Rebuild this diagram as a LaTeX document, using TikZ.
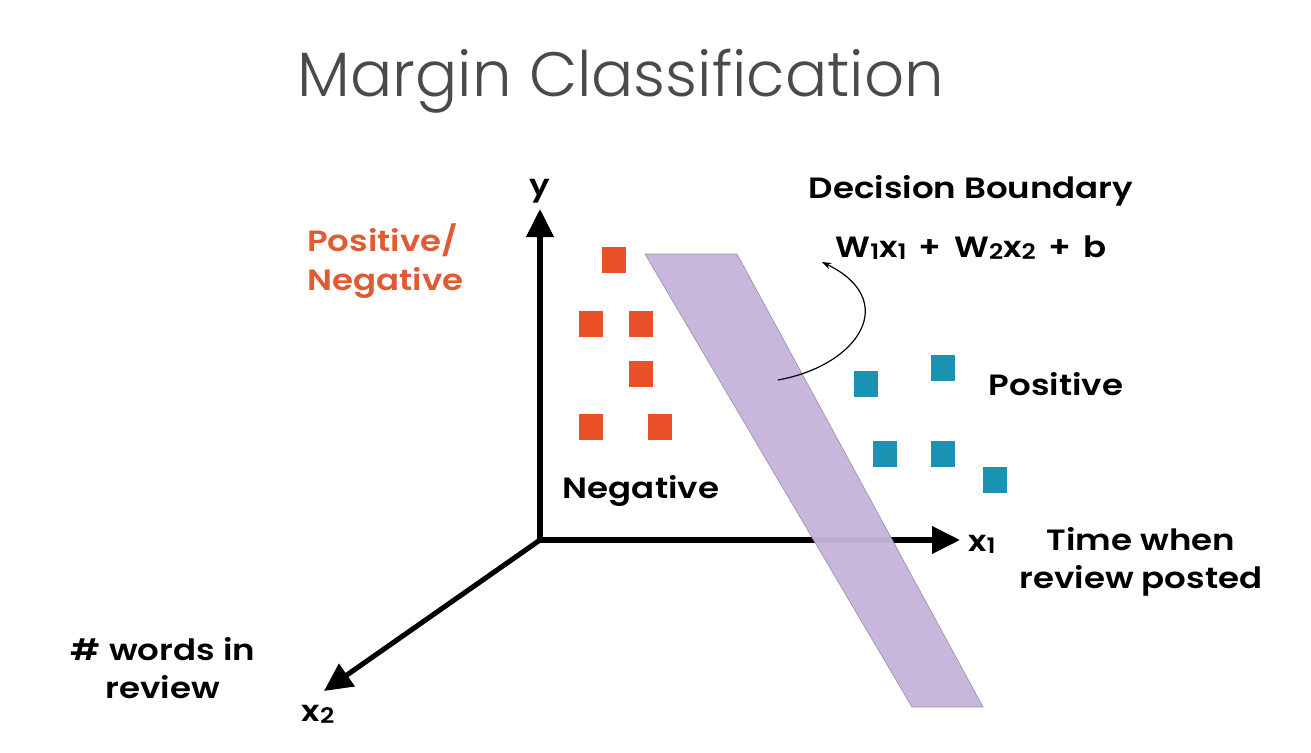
\documentclass[tikz,border=0pt]{standalone}
\usepackage{fontspec}
\setmainfont{Poppins}
\newfontfamily\titlefont{Poppins Light}
\newfontfamily\labelfont{Poppins SemiBold}[FakeStretch=1.16]
\usetikzlibrary{arrows.meta}
\definecolor{negred}{HTML}{EA5129}
\definecolor{posblue}{HTML}{1A93B3}
\definecolor{bandfill}{HTML}{C6B4DB}
\definecolor{bandedge}{HTML}{9C93A6}
\definecolor{labelorange}{HTML}{E05A34}
\definecolor{titlegray}{HTML}{4A4A4A}
% subscript digit set close to the baseline
\newcommand\lowdigit[1]{\raisebox{-0.12ex}{\fontsize{16}{16}\selectfont #1}}
% plus sign with wide spacing
\newcommand\wideplus{\hspace{0.42em}+\hspace{0.42em}}
\begin{document}
\begin{tikzpicture}[x=0.75pt,y=-0.75pt,
  axis/.style={line width=3.8pt,-{Triangle[length=21pt,width=20pt]}},
  lbl/.style={font=\labelfont\fontsize{22}{29}\selectfont,inner sep=0pt,align=center},
  negsq/.style={fill=negred,minimum width=18.5pt,minimum height=20pt,inner sep=0pt},
  possq/.style={fill=posblue,minimum width=18.5pt,minimum height=20pt,inner sep=0pt},
  band/.style={fill=bandfill,draw=bandedge,line width=0.5pt,fill opacity=0.97},
  pointer/.style={line width=0.9pt,-{Stealth[length=7pt,width=5pt]}}]
\useasboundingbox (0,0) rectangle (1311,753);
% title
\node[font=\titlefont\fontsize{47}{50}\selectfont,text=titlegray] (title) at (621,81) {Margin Classification};
% axes
\coordinate (origin) at (540,540);
\coordinate (ytip) at (540,209);
\coordinate (x1tip) at (960,540);
\coordinate (x2tip) at (324,691);
\draw[axis] (origin) -- (ytip);
\draw[axis] (origin) -- (x1tip);
\draw[axis] (origin) -- (x2tip);
\node[lbl] (ylab) at (540,191) {y};
\node[lbl] (x1lab) at (982,544) {x\lowdigit{1}};
\node[lbl] (x2lab) at (318,714) {x\lowdigit{2}};
% decision band
\path[band] (645,254) -- (737,254) -- (983,707) -- (912,707) -- cycle;
% negative samples
\node[negsq] (n1) at (614,260) {};
\node[negsq] (n2) at (591,324) {};
\node[negsq] (n3) at (641,324) {};
\node[negsq] (n4) at (641,374) {};
\node[negsq] (n5) at (591,427) {};
\node[negsq] (n6) at (660,427) {};
% positive samples
\node[possq] (p1) at (866,384) {};
\node[possq] (p2) at (943,368) {};
\node[possq] (p3) at (885,454) {};
\node[possq] (p4) at (943,454) {};
\node[possq] (p5) at (995,480) {};
% labels
\node[lbl,text=labelorange,align=left,anchor=west] (pn) at (307,261) {Positive/\\Negative};
\node[lbl] (neglab) at (641,491) {Negative};
\node[lbl] (poslab) at (1056,384) {Positive};
\node[lbl] (db) at (971,191) {Decision Boundary};
\node[lbl] (formula) at (971,248) {W\lowdigit{1}x\lowdigit{1}\wideplus W\lowdigit{2}x\lowdigit{2}\wideplus b};
\node[lbl] (timelab) at (1141,562) {Time when\\review posted};
\node[lbl] (wordslab) at (163,668) {\# words in\\review};
% pointer from the band to the formula
\coordinate (bandpt) at (778,380);
\coordinate (formtip) at (822,262);
\draw[pointer] (bandpt) .. controls (860,365) and (900,300) .. (formtip);
\end{tikzpicture}
\end{document}
